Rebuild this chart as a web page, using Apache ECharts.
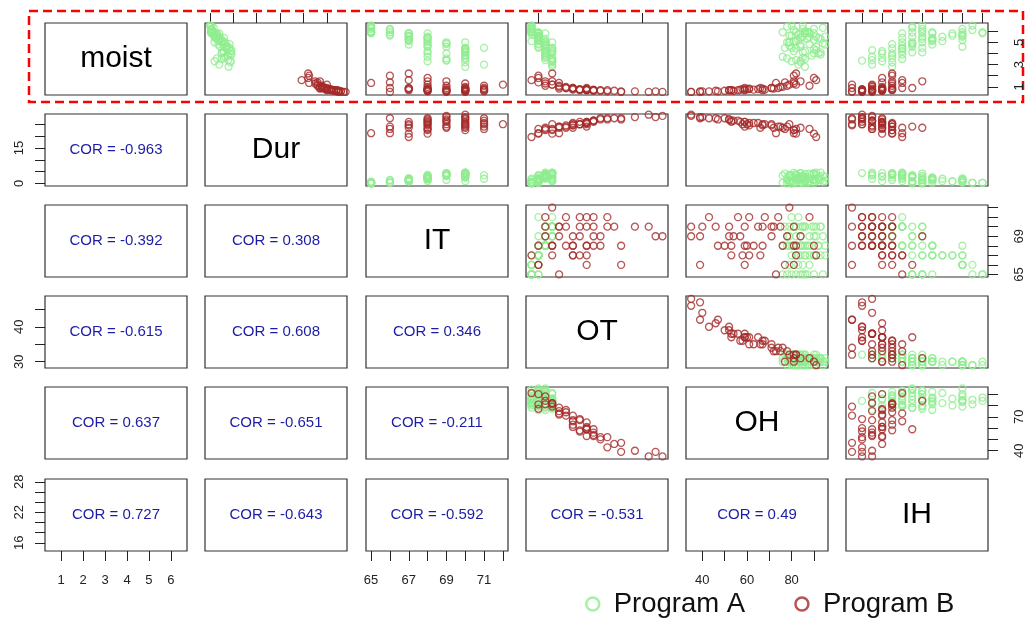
<!DOCTYPE html>
<html><head><meta charset="utf-8">
<script src="https://cdn.jsdelivr.net/npm/echarts@6/dist/echarts.min.js"></script>
<style>html,body{margin:0;padding:0;background:#fff}#c{width:1028px;height:619px}</style>
</head><body><div id="c"></div>
<script>
// ---------------- DATA ----------------
const varNames = ['moist', 'Dur', 'IT', 'OT', 'OH', 'IH'];
const programs = ['Program A', 'Program B'];

// Program A
const moistA = [3.35,4.3,3.7,3.0,4.0,3.6,3.3,4.84,4.45,4.0,3.56,2.8,4.5,3.9,5.8,5.4,5.0,4.4,3.5,5.9,5.5,5.0,4.6,4.1,6.5,5.8,5.5,5.0,4.1,5.9,5.8,5.1,4.8,5.5,5.1,5.8,5.6,5.9,5.7,5.2,4.6,6.5,6.1,5.9,5.8,
                6.3,6.2,5.6,5.3,4.8,4.2,3.8,4.2,4.9,4.5,5.2,5.3,6.4,6.0,5.4,3.2,3.4,5.5,6.2,4.7];
const durA   = [4.4,4.6,3.3,2.0,4.4,3.0,1.0,4.2,3.5,2.5,1.5,4.0,3.5,4.6,2.0,3.0,1.0,4.0,2.5,0.2,1.0,2.5,3.5,3.0,0.0,1.5,2.0,3.2,2.6,0.3,1.2,2.6,1.8,1.0,2.0,0.9,0.9,0.5,1.5,1.8,2.2,0.3,0.3,0.3,0.3,
                0.8,0.3,1.2,1.4,2.8,4.5,3.8,2.9,3.3,4.2,2.2,2.4,0.1,0.6,1.6,4.4,3.9,1.0,0.4,3.6];
const itA    = [69,70,68,71,69,70,68,69,70,68,69,70,71,70,68,68,70,70,70,65,67,68,69,70,65,67,68,69,70,65,67,68,67,67,67,67,67,66,66,67,68,65,66,65,65,
                65,65,66,67,68,70,70,68,69,70,67,68,65,65,68,70,69,67,66,68];
const otA    = [32,32,31,32,32,31,32,31,32,31,32,32,30,31,31,30,32,31,32,29,30,31,31,32,29,30,30,31,31,30,30,31,30,30,29,30,30,29,29,30,30,29,29,29,30,
                29,29,30,30,31,32,31,31,30,32,30,31,29,29,30,32,31,30,29,31];
const ohA    = [84,91,76,83,90,85,80,88,82,92,78,86,80,93,88,84,79,90,86,82,88,78,91,85,80,90,85,79,93,76,86,81,84,91,82,86,80,88,83,90,84,85,81,87,84,
                94,90,79,93,95,81,89,86,94,77,83,87,78,86,92,84,82,95,85,79];
const ihA    = [16,17,17,17,18,18,18,19,19,19,19,19,20,20,20,20,20,20,20,21,21,21,21,21,22,22,22,22,22,23,23,23,23,24,24,25,25,26,26,26,26,27,27,28,28,
                21,22,26,22,21,20,19,18,21,22,23,23,21,22,23,19,17,26,26,20];

// Program B
const moistB = [1.2,0.6,0.7,0.8,0.75,0.9,1.1,0.55,0.6,0.65,0.7,0.75,0.8,0.7,0.9,0.85,1.0,1.3,0.55,0.6,0.7,0.65,0.75,0.9,1.1,0.6,0.65,0.7,0.7,0.8,0.75,0.85,1.0,1.5,1.2,1.8,0.7,0.8,0.85,0.9,2.2,1.6,0.55,1.4,2.0,0.9,1.35,1.5];
const durB   = [25.0,27.5,26.5,25.5,25.0,24.0,23.0,29.0,28.0,27.5,27.0,26.0,25.5,25.0,24.5,23.5,24.0,22.5,28.5,28.0,27.0,26.5,26.0,25.0,24.0,27.0,27.5,26.5,26.0,25.0,25.5,24.5,23.5,22.5,23.0,21.0,26.0,25.0,24.5,23.5,21.0,19.6,27.5,23.0,21.2,24.0,21.2,23.5];
const itB    = [72,71,71,71,71,71,71,70,70,70,70,70,70,70,70,70,70,70,69,69,69,69,69,69,69,68,68,68,68,68,68,68,68,68,68,68,67,67,67,67,67,67,66,66,66,66,65,69];
const otB    = [32,40,38,37,36,34,31,46,44,41,40,38,37,36,34,33,33,31,48,47,39,38,36,35,33,42,39,38,37,37,35,35,34,32,32,30,37,36,35,35,32,29,42,30,30,37,33,31];
const ohB    = [79,43,56,61,68,74,88,35,40,46,52,59,65,67,71,72,75,81,35,39,52,54,57,71,78,47,50,53,59,60,63,67,76,81,82,90,53,58,61,66,82,91,39,77,81,59,73,84];
const ihB    = [15,16,17,18,16,19,17,16,17,18,16,17,18,19,15,18,17,19,17,16,18,17,16,18,19,15,16,17,18,16,19,17,18,19,17,18,18,19,18,20,19,20,15,18,19,21,20,22];

// Correlation labels (lower panels, row-major)
const corValues = ['-0.963','-0.392','0.308','-0.615','0.608','0.346','0.637','-0.651','-0.211','0.727','-0.643','-0.592','-0.531','0.49'];

// Tick values / labels
const moistTicks = [1,2,3,4,5,6], moistRightLabels = [1,3,5], moistBottomLabels = [1,2,3,4,5,6];
const durTicks = [0,5,10,15,20,25], durLabels = [0,15];
const itTicks = [65,66,67,68,69,70,71,72], itRightLabels = [65,69], itBottomLabels = [65,67,69,71];
const otTicks = [30,35,40,45], otLabels = [30,40];
const ohTicks = [40,50,60,70,80,90], ohRightLabels = [40,70], ohBottomLabels = [40,60,80];
const ihTicks = [16,18,20,22,24,26,28], ihLabels = [16,22,28];

// ---------------- LAYOUT / STYLE ----------------
const colLeft = [45, 205, 366, 526, 686, 846], panelW = 142;
const rowTop = [23, 114, 205, 296, 387, 479], panelH = 72;
const ranges = { moist:[0.27,6.73], Dur:[-1.05,29.3], IT:[64.73,72.27], OT:[28.2,48.8], OH:[32.7,96.3], IH:[14.4,28.55] };
const colors = ['#90EE90', '#A52A2A'];
const FONT = 'Liberation Sans, Arial, sans-serif';

const dataSets = [
  { moist: moistA, Dur: durA, IT: itA, OT: otA, OH: ohA, IH: ihA },
  { moist: moistB, Dur: durB, IT: itB, OT: otB, OH: ohB, IH: ihB }
];

// axis display specs: key "row,col,dim"
const axisSpecs = {
  '0,1,x': { pos:'top', ticks: durTicks, labels: [] },
  '0,3,x': { pos:'top', ticks: otTicks, labels: [] },
  '0,5,x': { pos:'top', ticks: ihTicks, labels: [] },
  '0,5,y': { pos:'right', ticks: moistTicks, labels: moistRightLabels },
  '2,5,y': { pos:'right', ticks: itTicks, labels: itRightLabels },
  '4,5,y': { pos:'right', ticks: ohTicks, labels: ohRightLabels },
  '1,0,y': { pos:'left', ticks: durTicks, labels: durLabels },
  '3,0,y': { pos:'left', ticks: otTicks, labels: otLabels },
  '5,0,y': { pos:'left', ticks: ihTicks, labels: ihLabels },
  '5,0,x': { pos:'bottom', ticks: moistTicks, labels: moistBottomLabels },
  '5,2,x': { pos:'bottom', ticks: itTicks, labels: itBottomLabels },
  '5,4,x': { pos:'bottom', ticks: ohTicks, labels: ohBottomLabels }
};

function isScatter(r, c) { return c > r || (r === 4 && c === 3); }

const grids = [], xAxes = [], yAxes = [], series = [], graphics = [];

function mkAxis(gi, v, spec) {
  const base = { type:'value', gridIndex: gi, min: ranges[v][0], max: ranges[v][1], splitLine:{show:false}, scale:true };
  if (!spec) return Object.assign(base, { show:false });
  const isY = spec.pos === 'left' || spec.pos === 'right';
  return Object.assign(base, {
    position: spec.pos,
    axisLine: { show:false },
    axisTick: { show:true, inside:false, length:10, customValues: spec.ticks, lineStyle:{ color:'#222', width:1 } },
    axisLabel: {
      show: spec.labels.length > 0, customValues: spec.labels,
      rotate: isY ? 90 : 0,
      margin: spec.pos === 'bottom' ? 23 : (spec.pos === 'left' ? 19 : 25),
      fontSize: 13, color:'#222', fontFamily: FONT
    }
  });
}

let corIdx = 0;
for (let r = 0; r < 6; r++) {
  for (let c = 0; c < 6; c++) {
    const gi = grids.length;
    grids.push({ left: colLeft[c], top: rowTop[r], width: panelW, height: panelH,
      show: true, borderColor: '#333', borderWidth: 1.2, backgroundColor: 'transparent', containLabel: false });
    xAxes.push(mkAxis(gi, varNames[c], axisSpecs[r + ',' + c + ',x']));
    yAxes.push(mkAxis(gi, varNames[r], axisSpecs[r + ',' + c + ',y']));
    const cx = colLeft[c] + panelW / 2, cy = rowTop[r] + panelH / 2;
    if (r === c) {
      graphics.push({ type:'text', x: cx, y: cy, silent:true,
        style:{ text: varNames[r], fontSize: 30, fontFamily: FONT, fill:'#000', align:'center', verticalAlign:'middle' } });
    } else if (isScatter(r, c)) {
      for (let p = 0; p < 2; p++) {
        const ds = dataSets[p];
        const xs = ds[varNames[c]], ys = ds[varNames[r]];
        series.push({
          type:'scatter', name: programs[p], xAxisIndex: gi, yAxisIndex: gi,
          data: xs.map((x, i) => [x, ys[i]]),
          symbol:'circle', symbolSize: 7, silent:true,
          itemStyle:{ color:'rgba(0,0,0,0)', borderColor: colors[p], borderWidth: 1.3 },
          emphasis:{ disabled:true }
        });
      }
    } else {
      graphics.push({ type:'text', x: cx, y: cy, silent:true,
        style:{ text: 'COR = ' + corValues[corIdx++], fontSize: 15, fontFamily: FONT, fill:'#1c1ca6', align:'center', verticalAlign:'middle' } });
    }
  }
}

// red dashed highlight box around first row
graphics.push({ type:'rect', silent:true, shape:{ x: 29, y: 11, width: 994, height: 91 },
  style:{ fill:'none', stroke:'#ff0000', lineWidth: 2.5, lineDash:[9,5] } });

const chart = echarts.init(document.getElementById('c'), null, { renderer:'canvas' });
chart.setOption({
  animation: false,
  backgroundColor: '#fff',
  grid: grids, xAxis: xAxes, yAxis: yAxes, series: series,
  legend: {
    data: programs, left: 580, top: 585, padding: 5, icon: 'circle', itemWidth: 13, itemHeight: 13, itemGap: 49,
    itemStyle: { borderWidth: 2.5 },
    textStyle: { fontSize: 27.5, color:'#111', fontFamily: FONT, padding:[0,0,0,9.5] },
    selectedMode: false
  },
  graphic: graphics
});
</script>
</body></html>
